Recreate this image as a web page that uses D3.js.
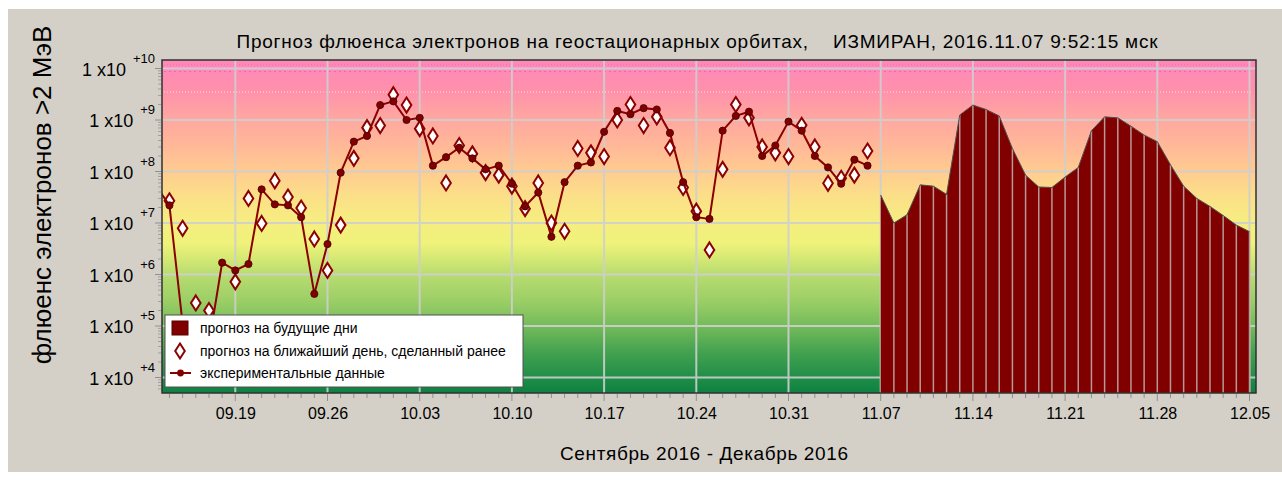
<html>
<head>
<meta charset="utf-8">
<style>
body { margin: 0; background: #fff; }
text { font-family: "Liberation Sans", Arial, sans-serif; fill: #000; }
</style>
</head>
<body>
<svg width="1282" height="480" id="chart"></svg>
<script src="https://cdn.jsdelivr.net/npm/d3@7/dist/d3.min.js"></script>
<script>
// measured daily fluence, from 2016-09-13
var measuredStart = "2016-09-13";
var measured = [5.2e7, 2.2e7, 1.1e5, 3.2e4, 4.6e4, 1.7e6, 1.2e6, 1.6e6, 4.5e7, 2.3e7,
  2.2e7, 1.3e7, 4.2e5, 3.9e6, 9.5e7, 3.8e8, 4.9e8, 1.95e9, 2.3e9, 1.0e9,
  1.1e9, 1.3e8, 1.9e8, 2.9e8, 1.8e8, 1.1e8, 1.3e8, 5.8e7, 2.1e7, 3.9e7,
  5.4e6, 6.2e7, 1.3e8, 1.5e8, 5.9e8, 1.5e9, 1.3e9, 1.7e9, 1.6e9, 5.6e8,
  6.2e7, 1.3e7, 1.2e7, 6.2e8, 1.2e9, 1.45e9, 2.0e8, 3.2e8, 9.3e8, 6.2e8,
  2.0e8, 1.2e8, 5.8e7, 1.7e8, 1.3e8];

// next-day forecast made earlier, from 2016-09-13
var earlierStart = "2016-09-13";
var earlier = [null, 2.7e7, 7.9e6, 2.8e5, 2.0e5, null, 7.2e5, 3.0e7, 9.8e6, 6.6e7,
  3.2e7, 1.95e7, 4.9e6, 1.2e6, 9.1e6, 1.8e8, 7.1e8, 7.8e8, 3.1e9, 1.95e9,
  6.8e8, 4.9e8, 6.0e7, 3.2e8, 2.2e8, 9.5e7, 8.5e7, 5.2e7, 1.9e7, 6.0e7,
  1.0e7, 6.9e6, 2.8e8, 2.3e8, 1.95e8, 1.0e9, 2.0e9, 7.8e8, 1.15e9, 2.9e8,
  4.9e7, 1.7e7, 3.0e6, 1.1e8, 2.0e9, 1.1e9, 3.0e8, 2.3e8, 1.95e8, 7.9e8,
  3.0e8, 5.9e7, 7.4e7, 8.5e7, 2.5e8];

// forecast for the coming days, from 2016-11-07
var forecastStart = "2016-11-07";
var forecast = [3.5e7, 1.0e7, 1.45e7, 5.5e7, 5.2e7, 3.6e7, 1.25e9, 1.95e9, 1.6e9, 1.2e9,
  2.8e8, 8.5e7, 5.0e7, 4.9e7, 7.8e7, 1.2e8, 6.2e8, 1.15e9, 1.1e9, 7.6e8,
  5.1e8, 3.8e8, 1.35e8, 5.2e7, 3.0e7, 2.1e7, 1.4e7, 9.1e6, 6.8e6];

var yTicks = [1e4, 1e5, 1e6, 1e7, 1e8, 1e9, 1e10];
var yTickPowers = ["+4", "+5", "+6", "+7", "+8", "+9", "+10"];
var xTickDates = ["2016-09-19", "2016-09-26", "2016-10-03", "2016-10-10", "2016-10-17", "2016-10-24",
  "2016-10-31", "2016-11-07", "2016-11-14", "2016-11-21", "2016-11-28", "2016-12-05"];
var xTickLabels = ["09.19", "09.26", "10.03", "10.10", "10.17", "10.24",
  "10.31", "11.07", "11.14", "11.21", "11.28", "12.05"];

var titleText = "Прогноз флюенса электронов на геостационарных орбитах,    ИЗМИРАН, 2016.11.07 9:52:15 мск";
var xTitle = "Сентябрь 2016 - Декабрь 2016";
var yTitle = "флюенс электронов >2 МэВ";
var legendLabels = ["прогноз на будущие дни", "прогноз на ближайший день, сделанный ранее", "экспериментальные данные"];

var parse = d3.utcParse("%Y-%m-%d");
function series(start, arr) {
  var d0 = parse(start);
  return arr.map(function(v, i) { return { date: d3.utcDay.offset(d0, i), v: v }; });
}
var measSeries = series(measuredStart, measured);
var earlySeries = series(earlierStart, earlier).filter(function(d) { return d.v != null; });
var foreSeries = series(forecastStart, forecast);

var svg = d3.select("#chart");
var plot = { left: 162, top: 60, right: 1256, bottom: 393 };

// panel background
svg.append("rect").attr("x", 8).attr("y", 9).attr("width", 1274).attr("height", 463).attr("fill", "#d4d0c8");

var x = d3.scaleUtc()
  .domain([parse("2016-09-19"), parse("2016-12-05")])
  .range([235.3, 1249.5]);
var y = d3.scaleLog()
  .domain([1e4, 1e10])
  .range([377.5, 68.5]);

// background gradient (by flux level)
var bgStops = [[10.17, "#ff88b8"], [9.6, "#ff90ac"], [9.0, "#ffa8a0"], [8.5, "#ffb898"], [8.0, "#ffcc90"],
  [7.5, "#fbe088"], [7.0, "#f6ee80"], [6.6, "#eef27a"], [6.3, "#d4e874"], [6.0, "#b8dc70"],
  [5.5, "#9ccf66"], [5.0, "#74bb5a"], [4.5, "#44a250"], [4.0, "#1f8e48"], [3.7, "#0e8040"]];
var defs = svg.append("defs");
var grad = defs.append("linearGradient").attr("id", "bg")
  .attr("gradientUnits", "userSpaceOnUse")
  .attr("x1", 0).attr("x2", 0).attr("y1", plot.top).attr("y2", plot.bottom);
grad.selectAll("stop").data(bgStops).enter().append("stop")
  .attr("offset", function(d) { return Math.max(0, Math.min(1, (y(Math.pow(10, d[0])) - plot.top) / (plot.bottom - plot.top))); })
  .attr("stop-color", function(d) { return d[1]; });
defs.append("clipPath").attr("id", "clip").append("rect")
  .attr("x", plot.left).attr("y", plot.top)
  .attr("width", plot.right - plot.left).attr("height", plot.bottom - plot.top);

svg.append("rect")
  .attr("x", plot.left).attr("y", plot.top)
  .attr("width", plot.right - plot.left).attr("height", plot.bottom - plot.top)
  .attr("fill", "url(#bg)");

// dotted level lines near top
[[65, "#ff50e0", "1,2"], [71.5, "#ff40f0", "2,3"], [92, "#ffffff", "1,2"]].forEach(function(l) {
  svg.append("line").attr("x1", plot.left + 2).attr("x2", plot.right - 4).attr("y1", l[0]).attr("y2", l[0])
    .attr("stroke", l[1]).attr("stroke-dasharray", l[2]).attr("stroke-width", 1.2).attr("opacity", 0.7);
});

// grid
var grid = svg.append("g").attr("stroke", "#cfcfcf").attr("stroke-width", 2).attr("opacity", 0.9);
grid.selectAll("line.h").data(yTicks).enter().append("line")
  .attr("x1", plot.left).attr("x2", plot.right)
  .attr("y1", function(d) { return y(d); }).attr("y2", function(d) { return y(d); });
grid.selectAll("line.v").data(xTickDates).enter().append("line")
  .attr("y1", plot.top).attr("y2", plot.bottom)
  .attr("x1", function(d) { return x(parse(d)); }).attr("x2", function(d) { return x(parse(d)); });

// forecast area
var area = d3.area()
  .x(function(d) { return x(d.date); })
  .y0(plot.bottom)
  .y1(function(d) { return y(d.v); });
svg.append("path").datum(foreSeries)
  .attr("d", area)
  .attr("fill", "#800000");
svg.append("g").selectAll("line").data(foreSeries.slice(1)).enter().append("line")
  .attr("x1", function(d) { return x(d.date); }).attr("x2", function(d) { return x(d.date); })
  .attr("y1", function(d) { return y(d.v); }).attr("y2", plot.bottom)
  .attr("stroke", "#b89898").attr("stroke-width", 1.5);
svg.append("path").datum(foreSeries)
  .attr("d", d3.line().x(function(d) { return x(d.date); }).y(function(d) { return y(d.v); }))
  .attr("fill", "none").attr("stroke", "#505050").attr("stroke-width", 1);

var data = svg.append("g").attr("clip-path", "url(#clip)");

// earlier forecasts (diamonds)
var diamond = "M0,-7.5L4.8,0L0,7.5L-4.8,0Z";
data.selectAll("path.dia").data(earlySeries).enter().append("path")
  .attr("d", diamond)
  .attr("transform", function(d) { return "translate(" + x(d.date) + "," + y(d.v) + ")"; })
  .attr("fill", "#fff").attr("stroke", "#8b0000").attr("stroke-width", 2);

// measured line + dots
data.append("path").datum(measSeries)
  .attr("d", d3.line().x(function(d) { return x(d.date); }).y(function(d) { return y(d.v); }))
  .attr("fill", "none").attr("stroke", "#8b0000").attr("stroke-width", 2);
data.selectAll("circle").data(measSeries).enter().append("circle")
  .attr("cx", function(d) { return x(d.date); })
  .attr("cy", function(d) { return y(d.v); })
  .attr("r", 3.6)
  .attr("fill", "#800000").attr("stroke", "#4a0000").attr("stroke-width", 0.8);

// frame
svg.append("rect")
  .attr("x", plot.left).attr("y", plot.top)
  .attr("width", plot.right - plot.left).attr("height", plot.bottom - plot.top)
  .attr("fill", "none").attr("stroke", "#303030").attr("stroke-width", 1.5);

// x ticks: daily minor, weekly major
var days = d3.utcDay.range(parse("2016-09-14"), parse("2016-12-06"));
svg.append("g").selectAll("line").data(days).enter().append("line")
  .attr("x1", function(d) { return x(d); }).attr("x2", function(d) { return x(d); })
  .attr("y1", plot.bottom + 1).attr("y2", function(d) { return d.getUTCDay() === 1 ? plot.bottom + 8 : plot.bottom + 5; })
  .attr("stroke", "#909090").attr("stroke-width", 1);

var xAxis = d3.axisBottom(x)
  .tickValues(xTickDates.map(parse))
  .tickFormat(function(d, i) { return xTickLabels[i]; })
  .tickSize(0).tickPadding(0);
var gx = svg.append("g").attr("transform", "translate(0," + (plot.bottom + 12) + ")").call(xAxis);
gx.select(".domain").remove();
gx.selectAll("text").attr("dy", "0.85em").style("font-size", "16px").style("font-family", "\"Liberation Sans\", Arial, sans-serif").style("fill", "#000");

// y minor ticks
var minor = [];
for (var e = 3; e < 10; e++) for (var k = 2; k <= 9; k++) { if (k * Math.pow(10, e) > 5e3 && k * Math.pow(10, e) < 1.4e10) minor.push(k * Math.pow(10, e)); }
svg.append("g").selectAll("line").data(minor).enter().append("line")
  .attr("x1", plot.left - 4).attr("x2", plot.left - 1)
  .attr("y1", function(d) { return y(d); }).attr("y2", function(d) { return y(d); })
  .attr("stroke", "#a0a0a0");
svg.append("g").selectAll("line").data(yTicks).enter().append("line")
  .attr("x1", plot.left - 7).attr("x2", plot.left - 1)
  .attr("y1", function(d) { return y(d); }).attr("y2", function(d) { return y(d); })
  .attr("stroke", "#909090");

// y labels
yTicks.forEach(function(v, i) {
  var t = svg.append("text").attr("x", 155).attr("y", y(v) + 7).attr("text-anchor", "end").style("font-size", "18px");
  t.append("tspan").text("1 x10");
  t.append("tspan").attr("dx", 7).attr("dy", -13).style("font-size", "13px").text(yTickPowers[i]);
});

// titles
svg.append("text").attr("x", 697).attr("y", 48).attr("text-anchor", "middle")
  .attr("textLength", 921).attr("lengthAdjust", "spacing")
  .style("font-size", "19px").style("white-space", "pre").text(titleText);
svg.append("text").attr("x", 704).attr("y", 460).attr("text-anchor", "middle")
  .attr("textLength", 288).attr("lengthAdjust", "spacing")
  .style("font-size", "19px").text(xTitle);
svg.append("text").attr("transform", "translate(51,195) rotate(-90)").attr("text-anchor", "middle")
  .style("font-size", "26px").text(yTitle);

// legend
var lg = svg.append("g");
lg.append("rect").attr("x", 165).attr("y", 315).attr("width", 358).attr("height", 72)
  .attr("fill", "#fff").attr("stroke", "#505050").attr("stroke-width", 1);
lg.append("rect").attr("x", 172).attr("y", 321).attr("width", 16).attr("height", 14)
  .attr("fill", "#800000").attr("stroke", "#5a0000");
lg.append("path").attr("d", diamond).attr("transform", "translate(180,351)")
  .attr("fill", "#fff").attr("stroke", "#8b0000").attr("stroke-width", 2);
lg.append("line").attr("x1", 170).attr("x2", 191).attr("y1", 373).attr("y2", 373)
  .attr("stroke", "#8b0000").attr("stroke-width", 2);
lg.append("circle").attr("cx", 180.5).attr("cy", 373).attr("r", 3.4).attr("fill", "#800000");
lg.selectAll("text").data(legendLabels).enter().append("text")
  .attr("x", 200).attr("y", function(d, i) { return 333 + i * 22.5; })
  .style("font-size", "14px").text(function(d) { return d; });
</script>
</body>
</html>
